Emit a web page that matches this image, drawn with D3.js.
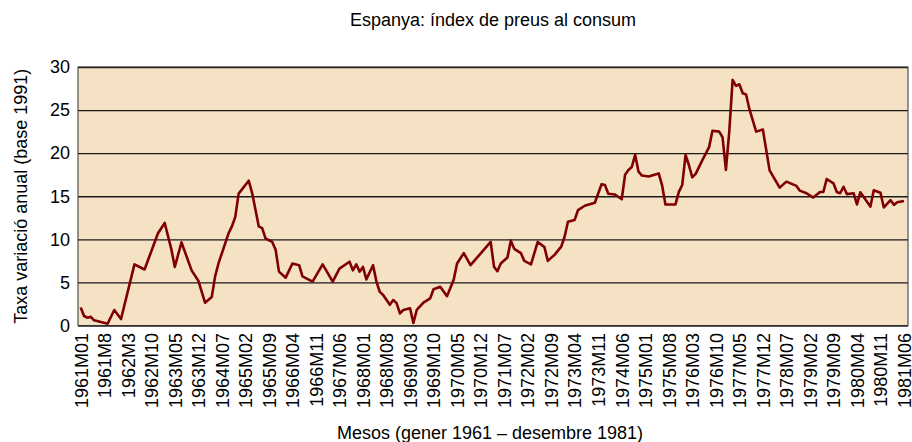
<!DOCTYPE html>
<html>
<head>
<meta charset="utf-8">
<script src="https://cdn.jsdelivr.net/npm/d3@7"></script>
<style>
  body { margin: 0; background: #fff; }
  text { font-family: Arial, 'Liberation Sans', sans-serif; }
</style>
</head>
<body>
<div id="chart"></div>
<script>
// Vertices of the series (month label, annual rate %)
const mesos = [
    '1961M01', '1961M02', '1961M03', '1961M04', '1961M05', '1961M09', '1961M11',
    '1962M01', '1962M05', '1962M08', '1962M12', '1963M02', '1963M04', '1963M05',
    '1963M07', '1963M10', '1963M12', '1964M02', '1964M04', '1964M05', '1964M06',
    '1964M09', '1964M10', '1964M11', '1964M12', '1965M03', '1965M04', '1965M06',
    '1965M07', '1965M08', '1965M10', '1965M11', '1965M12', '1966M02', '1966M04',
    '1966M06', '1966M07', '1966M10', '1967M01', '1967M04', '1967M06', '1967M09',
    '1967M10', '1967M11', '1967M12', '1968M01', '1968M02', '1968M04', '1968M05',
    '1968M06', '1968M07', '1968M09', '1968M10', '1968M11', '1968M12', '1969M01',
    '1969M03', '1969M04', '1969M05', '1969M07', '1969M09', '1969M10', '1969M12',
    '1970M02', '1970M04', '1970M05', '1970M07', '1970M09', '1971M03', '1971M04',
    '1971M05', '1971M06', '1971M08', '1971M09', '1971M10', '1971M12', '1972M01',
    '1972M03', '1972M05', '1972M07', '1972M08', '1972M10', '1972M12', '1973M01',
    '1973M02', '1973M04', '1973M05', '1973M07', '1973M10', '1973M12', '1974M01',
    '1974M02', '1974M04', '1974M06', '1974M07', '1974M08', '1974M09', '1974M10',
    '1974M11', '1974M12', '1975M02', '1975M05', '1975M06', '1975M07', '1975M10',
    '1975M11', '1975M12', '1976M01', '1976M02', '1976M03', '1976M04', '1976M06',
    '1976M08', '1976M09', '1976M11', '1976M12', '1977M01', '1977M02', '1977M03',
    '1977M04', '1977M05', '1977M06', '1977M07', '1977M08', '1977M10', '1977M12',
    '1978M02', '1978M05', '1978M07', '1978M10', '1978M11', '1979M01', '1979M03',
    '1979M05', '1979M06', '1979M07', '1979M09', '1979M10', '1979M11', '1979M12',
    '1980M01', '1980M03', '1980M04', '1980M05', '1980M08', '1980M09', '1980M11',
    '1980M12', '1981M02', '1981M03', '1981M04', '1981M06'
];
const taxa = [
    2.1, 1.1, 0.9, 1.0, 0.6, 0.2, 1.8,
    0.75, 7.1, 6.5, 10.7, 11.9, 8.8, 6.8,
    9.65, 6.4, 5.2, 2.65, 3.3, 5.7, 7.2,
    10.7, 11.5, 12.6, 15.3, 16.8, 15.4, 11.5,
    11.3, 10.1, 9.7, 8.8, 6.25, 5.55, 7.2,
    7.0, 5.7, 5.1, 7.1, 5.1, 6.6, 7.4,
    6.4, 7.1, 6.25, 6.8, 5.35, 7.0, 5.1,
    3.9, 3.55, 2.4, 2.95, 2.6, 1.4, 1.8,
    2.0, 0.3, 1.8, 2.65, 3.15, 4.2, 4.5,
    3.4, 5.3, 7.2, 8.4, 7.0, 9.7, 6.8,
    6.3, 7.2, 7.9, 9.85, 8.9, 8.4, 7.5,
    7.1, 9.7, 9.1, 7.5, 8.2, 9.15, 10.3,
    12.05, 12.25, 13.4, 13.9, 14.25, 16.4, 16.3,
    15.3, 15.2, 14.65, 17.5, 18.05, 18.4, 19.8,
    17.85, 17.4, 17.3, 17.65, 16.3, 14.05, 14.05,
    15.5, 16.3, 19.8, 18.6, 17.2, 17.6, 19.2,
    20.7, 22.6, 22.5, 21.85, 18.05, 22.5, 28.5,
    27.8, 28.0, 26.95, 26.8, 25.1, 22.5, 22.75,
    18.0, 16.0, 16.7, 16.2, 15.65, 15.35, 14.85,
    15.5, 15.5, 17.0, 16.5, 15.5, 15.35, 16.1,
    15.25, 15.35, 14.05, 15.45, 13.8, 15.7, 15.4,
    13.7, 14.55, 14.0, 14.3, 14.45
];

// Tick labels on the x axis (every 7 months)
const xTicks = [
    '1961M01', '1961M8', '1962M3', '1962M10', '1963M05', '1963M12', '1964M07',
    '1965M02', '1965M09', '1966M04', '1966M11', '1967M06', '1968M01', '1968M08',
    '1969M03', '1969M10', '1970M05', '1970M12', '1971M07', '1972M02', '1972M09',
    '1973M04', '1973M11', '1974M06', '1975M01', '1975M08', '1976M03', '1976M10',
    '1977M05', '1977M12', '1978M07', '1979M02', '1979M09', '1980M04', '1980M11',
    '1981M06'
];
const yTicks = [0, 5, 10, 15, 20, 25, 30];

// Month label -> months since 1961M01
const monthIndex = s => {
    const [y, m] = s.split('M').map(Number);
    return (y - 1961) * 12 + (m - 1);
};

const width = 912;
const height = 442;
const margin = { top: 67, right: 4, bottom: 116.5, left: 78 };
const innerW = width - margin.left - margin.right;
const innerH = height - margin.top - margin.bottom;

const svg = d3.select('#chart')
    .append('svg')
    .attr('width', width)
    .attr('height', height);

const g = svg.append('g')
    .attr('transform', `translate(${margin.left},${margin.top})`);

// Scales
const x = d3.scaleLinear()
    .domain([monthIndex(xTicks[0]), monthIndex(xTicks[xTicks.length - 1])])
    .range([2.7, innerW - 4]);

const y = d3.scaleLinear()
    .domain([0, 30])
    .range([innerH, 0]);

// Plot background
g.append('rect')
    .attr('width', innerW)
    .attr('height', innerH)
    .attr('fill', '#f5e1c3');

// Grid + y labels
const yAxis = g.append('g')
    .call(d3.axisLeft(y).tickValues(yTicks).tickSize(-innerW).tickPadding(8));
yAxis.select('.domain').remove();
yAxis.selectAll('line')
    .attr('stroke', '#1a1a1a')
    .attr('stroke-width', 1.3);
yAxis.selectAll('text')
    .attr('font-size', 18)
    .attr('fill', '#000');

// Frame
g.append('rect')
    .attr('width', innerW)
    .attr('height', innerH)
    .attr('fill', 'none')
    .attr('stroke', '#333')
    .attr('stroke-width', 1);

// X labels
const xAxis = g.append('g')
    .attr('transform', `translate(0,${innerH})`)
    .call(d3.axisBottom(x)
        .tickValues(xTicks.map(monthIndex))
        .tickFormat((d, i) => xTicks[i])
        .tickSize(0));
xAxis.select('.domain').remove();
xAxis.selectAll('text')
    .attr('transform', 'rotate(-90)')
    .attr('text-anchor', 'end')
    .attr('x', -7.5)
    .attr('y', 0)
    .attr('dy', '0.35em')
    .attr('font-size', 18)
    .attr('fill', '#000');

// Line
const line = d3.line()
    .x((d, i) => x(monthIndex(mesos[i])))
    .y(d => y(d));

g.append('path')
    .datum(taxa)
    .attr('d', line)
    .attr('fill', 'none')
    .attr('stroke', '#800000')
    .attr('stroke-width', 2.6)
    .attr('stroke-linejoin', 'round');

// Titles
svg.append('text')
    .attr('x', margin.left + innerW / 2)
    .attr('y', 26)
    .attr('text-anchor', 'middle')
    .attr('font-size', 18)
    .text('Espanya: índex de preus al consum');

svg.append('text')
    .attr('transform', `translate(27,${margin.top + innerH / 2}) rotate(-90)`)
    .attr('text-anchor', 'middle')
    .attr('font-size', 18)
    .text('Taxa variació anual (base 1991)');

svg.append('text')
    .attr('x', 490)
    .attr('y', 439)
    .attr('text-anchor', 'middle')
    .attr('font-size', 18)
    .text('Mesos (gener 1961 – desembre 1981)');
</script>
</body>
</html>
